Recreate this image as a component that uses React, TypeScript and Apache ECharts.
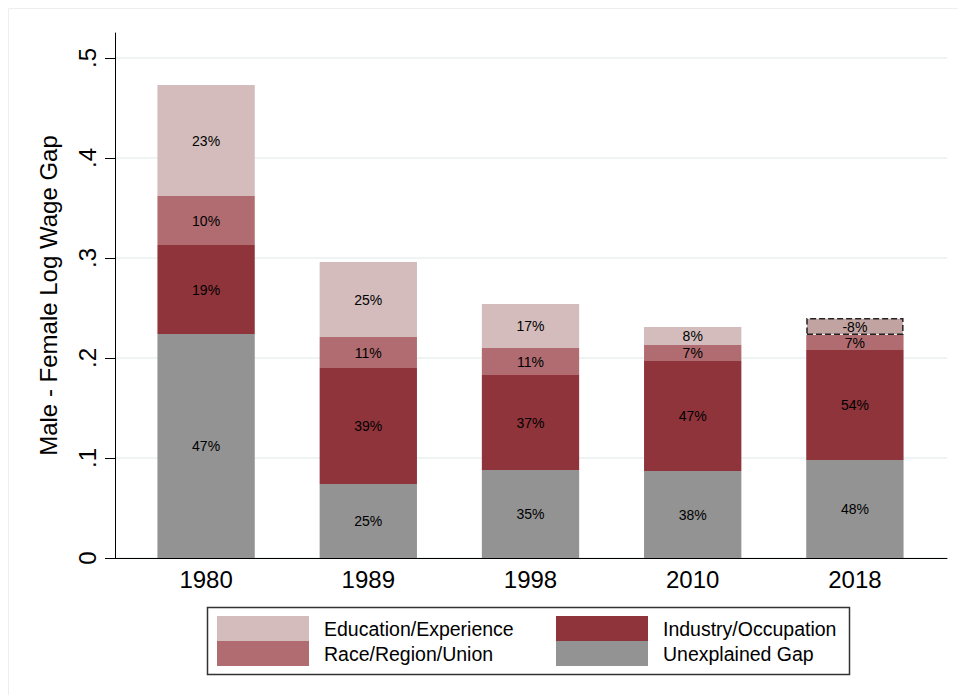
import React, { useEffect, useRef } from "react";
import * as echarts from "echarts";

const categories = ["1980", "1989", "1998", "2010", "2018"];
const unexplained = [0.224, 0.074, 0.088, 0.087, 0.098];
const industry = [0.089, 0.116, 0.095, 0.11, 0.11];
const race = [0.049, 0.031, 0.027, 0.016, 0.015];
const education = [0.111, 0.075, 0.044, 0.018, -0.017];
const unexplainedPct = ["47%", "25%", "35%", "38%", "48%"];
const industryPct = ["19%", "39%", "37%", "47%", "54%"];
const racePct = ["10%", "11%", "11%", "7%", "7%"];
const educationPct = ["23%", "25%", "17%", "8%", "-8%"];
const yTicks = [0, 0.1, 0.2, 0.3, 0.4, 0.5];
const yTickLabels = ["0", ".1", ".2", ".3", ".4", ".5"];
const yMax = 0.525;

const FONT = "'Liberation Sans', Arial, Helvetica, sans-serif";
const COLORS = {
  edu: "#d3bcbb",
  race: "#b06c70",
  industry: "#8f343b",
  unexplained: "#939393",
  eduNeg: "#c1a3a1",
};

export default function App() {
  const ref = useRef<HTMLDivElement>(null);
  useEffect(() => {
    if (!ref.current) return;
    const chart = echarts.init(ref.current, undefined, { renderer: "svg" });
    const label = (arr: string[]) => ({
      show: true,
      position: "inside",
      color: "#000",
      fontSize: 14,
      fontFamily: FONT,
      formatter: (p: any) => arr[p.dataIndex],
    });
    const common = {
      type: "bar",
      stack: "gap",
      xAxisIndex: 1,
      yAxisIndex: 1,
      barWidth: "60%",
    };
    const legendBase = (name: string, left: number, top: number) => ({
      data: [name],
      left,
      top,
      padding: 0,
      itemWidth: 92,
      itemHeight: 25,
      icon: "rect",
      selectedMode: false,
      textStyle: {
        fontSize: 19.5,
        fontFamily: FONT,
        color: "#000",
        padding: [3, 0, 0, 10],
      },
    });
    chart.setOption({
      animation: false,
      backgroundColor: "#fff",
      grid: [
        { left: 115, right: 11, top: 33, bottom: 137 },
        { left: 125, right: 22, top: 33, bottom: 137 },
      ],
      xAxis: [
        {
          type: "value",
          gridIndex: 0,
          min: 0,
          max: 1,
          axisLine: { show: true, lineStyle: { color: "#000", width: 1 } },
          axisTick: { show: false },
          axisLabel: { show: false },
          splitLine: { show: false },
        },
        {
          type: "category",
          gridIndex: 1,
          data: categories,
          axisLine: { show: false },
          axisTick: { show: false },
          axisLabel: {
            fontSize: 24,
            fontFamily: FONT,
            color: "#000",
            margin: 9,
          },
        },
      ],
      yAxis: [
        {
          type: "value",
          gridIndex: 0,
          min: 0,
          max: yMax,
          name: "Male - Female Log Wage Gap",
          nameLocation: "middle",
          nameRotate: 90,
          nameGap: 55,
          nameTextStyle: { fontSize: 24, fontFamily: FONT, color: "#000" },
          axisLine: { show: true, onZero: false, lineStyle: { color: "#000", width: 1 } },
          axisTick: {
            show: true,
            length: 10,
            lineStyle: { color: "#000" },
            customValues: yTicks,
          },
          axisLabel: {
            rotate: 90,
            fontSize: 24,
            fontFamily: FONT,
            color: "#000",
            margin: 16,
            customValues: yTicks,
            formatter: (v: number) => {
              const i = yTicks.findIndex((t) => Math.abs(t - v) < 1e-9);
              return i >= 0 ? yTickLabels[i] : "";
            },
          },
          splitLine: { show: true, lineStyle: { color: "#e8eff1", width: 1.5 } },
        },
        {
          type: "value",
          gridIndex: 1,
          min: 0,
          max: yMax,
          show: false,
          splitLine: { show: false },
        },
      ],
      legend: [
        legendBase("Education/Experience", 217, 616),
        legendBase("Race/Region/Union", 217, 641),
        legendBase("Industry/Occupation", 556, 616),
        legendBase("Unexplained Gap", 556, 641),
      ],
      graphic: [
        {
          type: "rect",
          silent: true,
          z: -10,
          shape: { x: 8.5, y: 8.5, width: 1000, height: 1000 },
          style: { fill: "none", stroke: "#eceff1", lineWidth: 1 },
        },
        {
          type: "rect",
          silent: true,
          shape: { x: 207.5, y: 607.5, width: 642, height: 67 },
          style: { fill: "none", stroke: "#333", lineWidth: 1.5 },
        },
      ],
      series: [
        {
          ...common,
          name: "Unexplained Gap",
          data: unexplained,
          itemStyle: { color: COLORS.unexplained },
          label: label(unexplainedPct),
        },
        {
          ...common,
          name: "Industry/Occupation",
          data: industry,
          itemStyle: { color: COLORS.industry },
          label: label(industryPct),
        },
        {
          ...common,
          name: "Race/Region/Union",
          data: race,
          itemStyle: { color: COLORS.race },
          label: label(racePct),
        },
        {
          ...common,
          name: "Education/Experience",
          data: education.map((v) =>
            v < 0
              ? {
                  value: Math.abs(v),
                  itemStyle: {
                    color: COLORS.eduNeg,
                    borderColor: "#222",
                    borderWidth: 1.5,
                    borderType: [6, 3],
                  },
                }
              : v
          ),
          itemStyle: { color: COLORS.edu },
          label: label(educationPct),
        },
      ],
    });
    return () => chart.dispose();
  }, []);
  return (
    <div
      ref={ref}
      style={{ position: "fixed", left: 0, top: 0, width: 958, height: 695 }}
    />
  );
}
